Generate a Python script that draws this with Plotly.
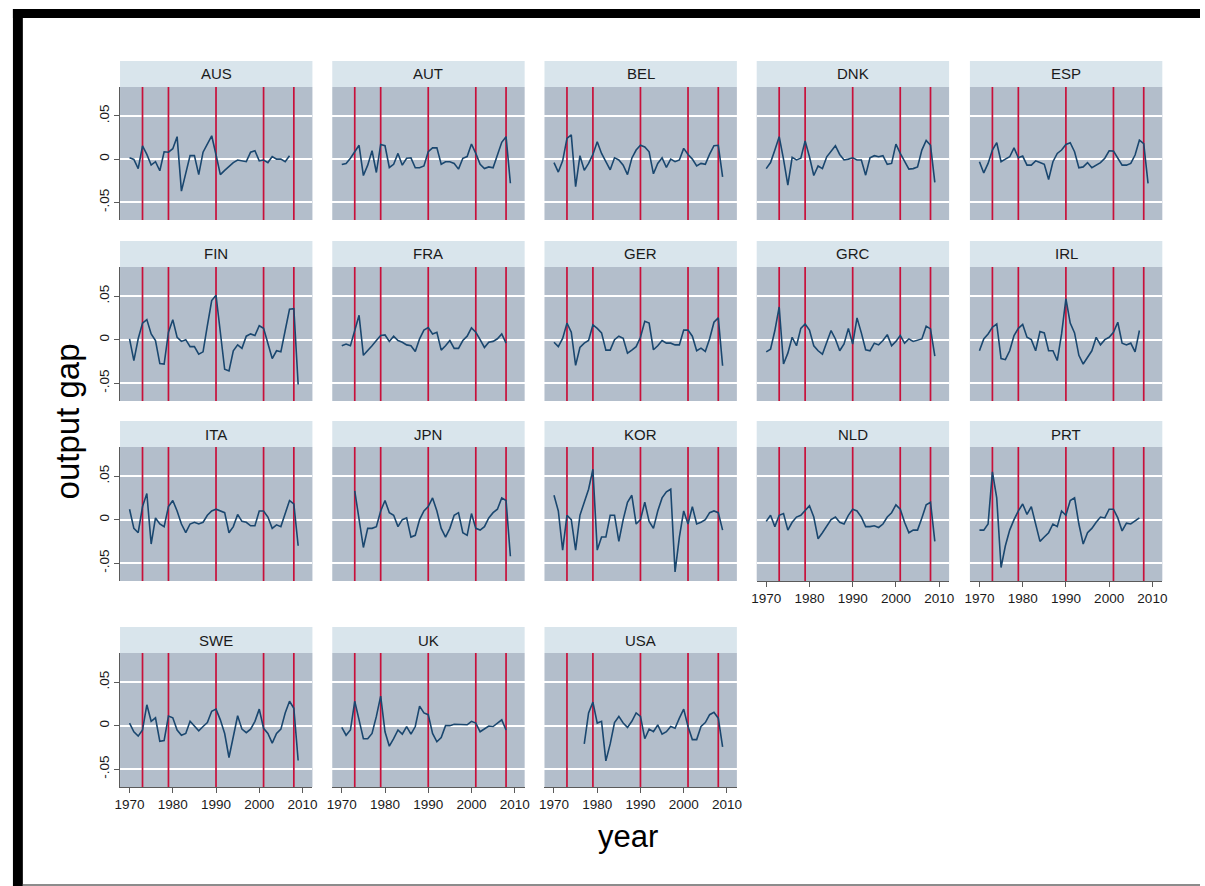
import plotly.graph_objects as go

# ---------------------------------------------------------------------------
# Data: output gap by country, annual 1970-2009 (None = not available)
# ---------------------------------------------------------------------------
years = list(range(1970, 2010))
countries = ["AUS", "AUT", "BEL", "DNK", "ESP",
             "FIN", "FRA", "GER", "GRC", "IRL",
             "ITA", "JPN", "KOR", "NLD", "PRT",
             "SWE", "UK", "USA"]

# years marked with vertical reference lines
event_years = [1973, 1979, 1990, 2001, 2008]

x_ticks = [1970, 1980, 1990, 2000, 2010]
y_ticks = [-0.05, 0, 0.05]
y_tick_text = ["-.05", "0", ".05"]

gap_AUS = [0.0015, -0.0004, -0.011, 0.0154, 0.0054, -0.0069, -0.003, -0.0135, 0.0085, 0.008,
           0.012, 0.026, -0.037, -0.016, 0.004, 0.004, -0.018, 0.008, 0.018, 0.027,
           0.005, -0.018, -0.013, -0.008, -0.004, -0.001, -0.002, -0.003, 0.008, 0.0097,
           -0.002, -0.001, -0.004, 0.003, 0.0, 0.0, -0.003, 0.004, None, None]
gap_AUT = [-0.0062, -0.005, 0.001, 0.0085, 0.016, -0.019, -0.007, 0.0097, -0.0155, 0.017,
           0.0155, -0.0097, -0.006, 0.0066, -0.007, 0.001, 0.0015, -0.010, -0.010, -0.008,
           0.0085, 0.013, 0.013, -0.006, -0.003, -0.003, -0.005, -0.0116, 0.001, 0.003,
           0.0175, 0.0066, -0.006, -0.011, -0.009, -0.010, 0.0047, 0.0194, 0.026, -0.028]
gap_BEL = [-0.004, -0.015, -0.002, 0.024, 0.028, -0.032, 0.004, -0.013, -0.005, 0.0054,
           0.020, 0.0066, -0.003, -0.0124, 0.0015, -0.001, -0.007, -0.018, 0.001, 0.0105,
           0.016, 0.014, 0.0085, -0.017, -0.005, 0.0015, -0.0097, 0.0, -0.003, -0.001,
           0.0124, 0.0054, 0.0, -0.008, -0.005, -0.006, 0.0058, 0.0155, 0.016, -0.0205]
gap_DNK = [-0.011, -0.004, 0.0105, 0.026, 0.0, -0.030, 0.002, -0.001, 0.001, 0.021,
           0.0027, -0.019, -0.008, -0.011, 0.0027, 0.0085, 0.0155, 0.0054, -0.001, 0.0,
           0.0015, -0.001, -0.001, -0.0186, 0.0015, 0.004, 0.0027, 0.004, -0.006, -0.005,
           0.0174, 0.0066, -0.002, -0.0116, -0.011, -0.009, 0.0105, 0.0217, 0.016, -0.027]
gap_ESP = [-0.003, -0.016, -0.005, 0.0105, 0.019, -0.003, 0.0, 0.0027, 0.013, 0.0015,
           0.0035, -0.007, -0.007, -0.002, -0.004, -0.006, -0.0236, -0.003, 0.0066, 0.0105,
           0.017, 0.019, 0.0085, -0.010, -0.009, -0.004, -0.010, -0.007, -0.004, 0.001,
           0.0097, 0.0093, 0.001, -0.007, -0.007, -0.005, 0.0047, 0.022, 0.018, -0.028]
gap_FIN = [0.001, -0.024, 0.001, 0.019, 0.023, 0.0066, -0.001, -0.0275, -0.028, 0.0085,
           0.023, 0.0027, -0.002, 0.0, -0.008, -0.008, -0.0167, -0.014, 0.016, 0.045,
           0.051, 0.0085, -0.034, -0.036, -0.0128, -0.006, -0.010, 0.004, 0.0066, 0.0047,
           0.016, 0.013, -0.003, -0.0217, -0.0128, -0.014, 0.0105, 0.035, 0.0357, -0.0516]
gap_FRA = [-0.007, -0.005, -0.007, 0.0105, 0.028, -0.018, -0.013, -0.007, -0.001, 0.0047,
           0.0054, -0.002, 0.004, -0.001, -0.003, -0.006, -0.007, -0.0136, 0.001, 0.011,
           0.014, 0.0066, 0.0085, -0.012, -0.007, -0.001, -0.010, -0.010, -0.001, 0.004,
           0.0136, 0.0085, 0.0, -0.009, -0.003, -0.002, 0.001, 0.0066, -0.004, None]
gap_GER = [-0.003, -0.008, 0.0015, 0.019, 0.0085, -0.0295, -0.009, -0.004, -0.001, 0.017,
           0.013, 0.0078, -0.012, -0.012, 0.0, 0.004, 0.0015, -0.0155, -0.012, -0.008,
           0.0027, 0.021, 0.019, -0.0116, -0.007, -0.001, -0.004, -0.004, -0.006, -0.006,
           0.011, 0.011, 0.004, -0.0128, -0.0097, -0.0136, 0.001, 0.020, 0.025, -0.030]
gap_GRC = [-0.014, -0.011, 0.0105, 0.0376, -0.028, -0.0155, 0.0027, -0.007, 0.013, 0.018,
           0.011, -0.007, -0.0128, -0.0167, -0.003, 0.0105, 0.0008, -0.0128, -0.005, 0.013,
           -0.005, 0.025, 0.0078, -0.0116, -0.0128, -0.004, -0.006, -0.001, 0.0058, -0.007,
           -0.002, 0.0047, -0.004, 0.0008, -0.002, -0.001, 0.0008, 0.0155, 0.0124, -0.019]
gap_IRL = [-0.0128, 0.0008, 0.0066, 0.0143, 0.018, -0.0217, -0.023, -0.0128, 0.0047, 0.013,
           0.0174, 0.0027, 0.0, -0.0128, 0.0093, 0.0078, -0.0128, -0.0128, -0.024, 0.0066,
           0.047, 0.019, 0.0078, -0.018, -0.028, -0.0205, -0.0128, 0.0027, -0.006, 0.0,
           0.0027, 0.0085, 0.020, -0.004, -0.006, -0.004, -0.014, 0.0105, None, None]
gap_ITA = [0.012, -0.010, -0.015, 0.015, 0.030, -0.028, 0.002, -0.005, -0.008, 0.015,
           0.022, 0.010, -0.005, -0.015, -0.005, -0.003, -0.005, -0.003, 0.005, 0.010,
           0.012, 0.010, 0.008, -0.015, -0.008, 0.006, -0.002, -0.003, -0.007, -0.007,
           0.010, 0.010, 0.003, -0.010, -0.006, -0.008, 0.006, 0.022, 0.018, -0.030]
gap_JPN = [None, None, None, 0.033, 0.000, -0.032, -0.010, -0.010, -0.008, 0.010,
           0.022, 0.008, 0.005, -0.008, 0.000, 0.002, -0.020, -0.018, 0.000, 0.010,
           0.015, 0.025, 0.010, -0.010, -0.020, -0.010, 0.005, 0.008, -0.015, -0.018,
           0.007, -0.010, -0.012, -0.008, 0.002, 0.008, 0.012, 0.025, 0.022, -0.042]
gap_KOR = [0.028, 0.010, -0.035, 0.005, 0.000, -0.035, 0.005, 0.020, 0.035, 0.058,
           -0.035, -0.020, -0.020, 0.005, 0.005, -0.025, 0.000, 0.020, 0.028, -0.005,
           0.000, 0.020, -0.002, -0.010, 0.010, 0.025, 0.032, 0.035, -0.060, -0.020,
           0.010, -0.005, 0.015, -0.005, -0.003, 0.000, 0.008, 0.010, 0.008, -0.012]
gap_NLD = [-0.002, 0.005, -0.008, 0.005, 0.007, -0.012, -0.003, 0.003, 0.005, 0.010,
           0.016, 0.003, -0.022, -0.015, -0.008, 0.000, 0.003, -0.003, -0.005, 0.005,
           0.012, 0.010, 0.003, -0.008, -0.008, -0.007, -0.009, -0.005, 0.003, 0.008,
           0.017, 0.012, -0.003, -0.015, -0.012, -0.012, 0.002, 0.017, 0.020, -0.025]
gap_PRT = [-0.012, -0.012, -0.005, 0.055, 0.025, -0.055, -0.030, -0.012, 0.000, 0.010,
           0.018, 0.006, 0.015, -0.005, -0.025, -0.020, -0.015, -0.005, -0.008, 0.010,
           0.005, 0.022, 0.025, -0.005, -0.028, -0.015, -0.010, -0.003, 0.003, 0.002,
           0.012, 0.012, 0.002, -0.013, -0.004, -0.005, -0.001, 0.002, None, None]
gap_SWE = [0.003, -0.007, -0.012, -0.005, 0.024, 0.005, 0.009, -0.018, -0.017, 0.011,
           0.009, -0.005, -0.011, -0.009, 0.005, -0.001, -0.006, -0.001, 0.0035, 0.0165,
           0.019, 0.0067, -0.009, -0.0366, -0.013, 0.0114, -0.004, -0.008, -0.004, 0.005,
           0.019, -0.003, -0.009, -0.020, -0.009, -0.004, 0.0146, 0.028, 0.020, -0.040]
gap_UK = [-0.002, -0.011, -0.005, 0.028, 0.0067, -0.015, -0.015, -0.009, 0.0106, 0.034,
          -0.007, -0.0236, -0.015, -0.005, -0.0098, -0.001, -0.0098, -0.001, 0.0224, 0.0146,
          0.0126, -0.009, -0.0185, -0.0137, 0.0, 0.0, 0.0016, 0.0016, 0.0008, 0.001,
          0.005, 0.003, -0.007, -0.004, -0.0004, -0.001, 0.003, 0.0067, -0.005, None]
gap_USA = [None, None, None, None, None, None, None, -0.021, 0.0146, 0.027,
           0.003, 0.005, -0.0405, -0.021, 0.0035, 0.0106, 0.003, -0.002, 0.005, 0.0146,
           0.0106, -0.015, -0.004, -0.007, 0.0008, -0.0098, -0.007, -0.001, -0.003, 0.0086,
           0.019, -0.001, -0.016, -0.016, -0.001, 0.0035, 0.0126, 0.0154, 0.0086, -0.0244]

series = [gap_AUS, gap_AUT, gap_BEL, gap_DNK, gap_ESP,
          gap_FIN, gap_FRA, gap_GER, gap_GRC, gap_IRL,
          gap_ITA, gap_JPN, gap_KOR, gap_NLD, gap_PRT,
          gap_SWE, gap_UK, gap_USA]

# ---------------------------------------------------------------------------
# Layout geometry (pixels on a 1205 x 886 canvas)
# ---------------------------------------------------------------------------
W, H = 1205, 886
col_left = [116, 330, 544, 758, 973]
panel_w = 194
row_plot = [(87, 220), (267, 401), (447, 581), (653, 787)]
strip_h = 26
n_cols = 5

FONT = "Liberation Sans, Arial, sans-serif"
LINE_COLOR = "#1a476f"
EVENT_COLOR = "#c8103a"
PLOT_BG = "#b3becb"
STRIP_BG = "#d9e5ec"
AXIS_COLOR = "#5a5a5a"
TICK_SIZE = 13.5


def px_x(p):
    return p / W


def px_y(p):
    return 1 - p / H


fig = go.Figure()
shapes = []
annotations = []
layout_axes = {}

n = len(countries)
for k, (name, vals) in enumerate(zip(countries, series)):
    r, c = divmod(k, n_cols)
    idx = k + 1
    xa = "x" if idx == 1 else f"x{idx}"
    ya = "y" if idx == 1 else f"y{idx}"
    x0, x1 = col_left[c], col_left[c] + panel_w
    top, bot = row_plot[r]

    # panel is the lowest one in its column -> gets the year axis
    is_bottom = (k + n_cols) >= n
    is_left = c == 0

    # event-year reference lines, drawn under the series
    for yr in event_years:
        fig.add_trace(go.Scatter(
            x=[yr, yr], y=[-0.0705, 0.0835], mode="lines", xaxis=xa, yaxis=ya,
            line=dict(color=EVENT_COLOR, width=1.7),
            showlegend=False, hoverinfo="skip",
        ))

    fig.add_trace(go.Scatter(
        x=years, y=vals, mode="lines", xaxis=xa, yaxis=ya,
        line=dict(color=LINE_COLOR, width=1.6), connectgaps=False,
        showlegend=False, hoverinfo="x+y", name=name,
    ))

    layout_axes["xaxis" if idx == 1 else f"xaxis{idx}"] = dict(
        domain=[px_x(x0), px_x(x1)], anchor=ya,
        range=[1967.8, 2012.3], tickvals=x_ticks,
        showticklabels=is_bottom, ticks="outside" if is_bottom else "",
        ticklen=5, tickwidth=1, tickcolor=AXIS_COLOR,
        showline=is_bottom, linecolor=AXIS_COLOR, linewidth=1,
        showgrid=False, zeroline=False,
        tickfont=dict(family=FONT, size=TICK_SIZE, color="#1a1a1a"),
    )
    layout_axes["yaxis" if idx == 1 else f"yaxis{idx}"] = dict(
        domain=[px_y(bot), px_y(top)], anchor=xa,
        range=[-0.0705, 0.0835], tickvals=y_ticks, ticktext=y_tick_text,
        showticklabels=is_left, ticks="outside" if is_left else "",
        ticklen=5, tickwidth=1, tickcolor=AXIS_COLOR, tickangle=-90,
        showline=is_left, linecolor=AXIS_COLOR, linewidth=1.2,
        showgrid=True, gridcolor="white", gridwidth=1.6, zeroline=False,
        tickfont=dict(family=FONT, size=TICK_SIZE, color="#1a1a1a"),
    )

    # title strip
    shapes.append(dict(
        type="rect", xref="paper", yref="paper",
        x0=px_x(x0), x1=px_x(x1), y0=px_y(top), y1=px_y(top - strip_h),
        fillcolor=STRIP_BG, line=dict(width=0),
    ))
    annotations.append(dict(
        text=name, xref="paper", yref="paper",
        x=px_x((x0 + x1) / 2), y=px_y(top - strip_h / 2),
        showarrow=False, xanchor="center", yanchor="middle",
        font=dict(family=FONT, size=15, color="#1a1a1a"),
    ))

# outer frame
shapes.append(dict(type="rect", xref="paper", yref="paper",
                   x0=px_x(8), x1=1, y0=px_y(18), y1=px_y(9),
                   fillcolor="black", line=dict(width=0)))
shapes.append(dict(type="rect", xref="paper", yref="paper",
                   x0=px_x(8), x1=px_x(18), y0=0, y1=px_y(9),
                   fillcolor="black", line=dict(width=0)))
shapes.append(dict(type="rect", xref="paper", yref="paper",
                   x0=px_x(18), x1=1, y0=0, y1=px_y(884),
                   fillcolor="#8c8c8c", line=dict(width=0)))

# axis titles
annotations.append(dict(
    text="output gap", xref="paper", yref="paper",
    x=px_x(64), y=px_y(421), textangle=-90, showarrow=False,
    xanchor="center", yanchor="middle",
    font=dict(family=FONT, size=33, color="black"),
))
annotations.append(dict(
    text="year", xref="paper", yref="paper",
    x=px_x(628), y=px_y(836), showarrow=False,
    xanchor="center", yanchor="middle",
    font=dict(family=FONT, size=31, color="black"),
))

fig.update_layout(
    width=W, height=H, autosize=False,
    margin=dict(l=0, r=0, t=0, b=0),
    paper_bgcolor="white", plot_bgcolor=PLOT_BG,
    shapes=shapes, annotations=annotations,
    showlegend=False,
    **layout_axes,
)

fig.write_html("out.html")
